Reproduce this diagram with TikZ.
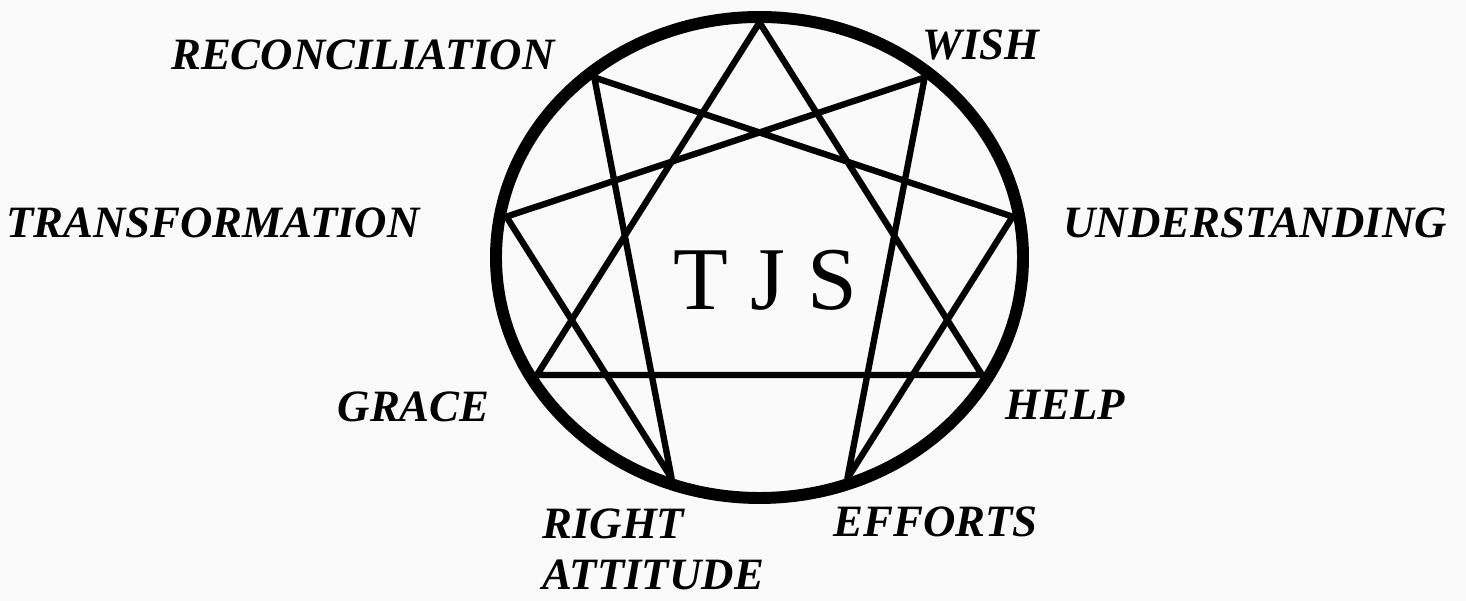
\documentclass[tikz,border=0pt]{standalone}
\usepackage{fontspec}
\setmainfont{Liberation Serif}
\usepackage{xcolor}
\usepackage{tikz}
\usetikzlibrary{positioning, calc}
\definecolor{paper}{RGB}{250, 250, 250}

\begin{document}
\begin{tikzpicture}[
  rim/.style={draw=black, line width=6.8pt},
  chord/.style={draw=black, line width=3.6pt, line join=round},
  tag/.style={inner sep=0pt, font=\fontsize{25.5}{25.5}\selectfont\bfseries\itshape}
]
\fill[paper] (0,0) rectangle (29.32,12.02);
\useasboundingbox (0,0) rectangle (29.32,12.02);
\coordinate (c) at (15.19,6.87);
% the nine points, 9 on top, going clockwise
\foreach \i in {0,...,8}
  \coordinate (p\i) at ($(c)+({90-40*\i}:5.14 and 4.70)$);
\draw[rim] (c) ellipse [x radius=5.27, y radius=4.81];
\draw[chord] (p0) -- (p3) -- (p6) -- cycle;
\draw[chord] (p1) -- (p4) -- (p2) -- (p8) -- (p5) -- (p7) -- cycle;
\node[anchor=base, inner sep=0pt, font=\fontsize{51}{51}\selectfont] (tjs) at (15.31,5.82) {T J S};
\node[tag, anchor=base east] (reconciliation) at (11.10,10.62) {RECONCILIATION};
\node[tag, anchor=base west] (wish) at (18.44,10.82) {WISH};
\node[tag, anchor=base east] (transformation) at (8.40,7.26) {TRANSFORMATION};
\node[tag, anchor=base west] (understanding) at (21.26,7.26) {UNDERSTANDING};
\node[tag, anchor=base east] (grace) at (9.80,3.58) {GRACE};
\node[tag, anchor=base west] (help) at (20.10,3.62) {HELP};
\node[tag, anchor=base west] (right) at (10.84,1.24) {RIGHT};
\node[tag, anchor=base west] (attitude) at (10.84,0.22) {ATTITUDE};
\node[tag, anchor=base west] (efforts) at (16.66,1.28) {EFFORTS};
\end{tikzpicture}
\end{document}
